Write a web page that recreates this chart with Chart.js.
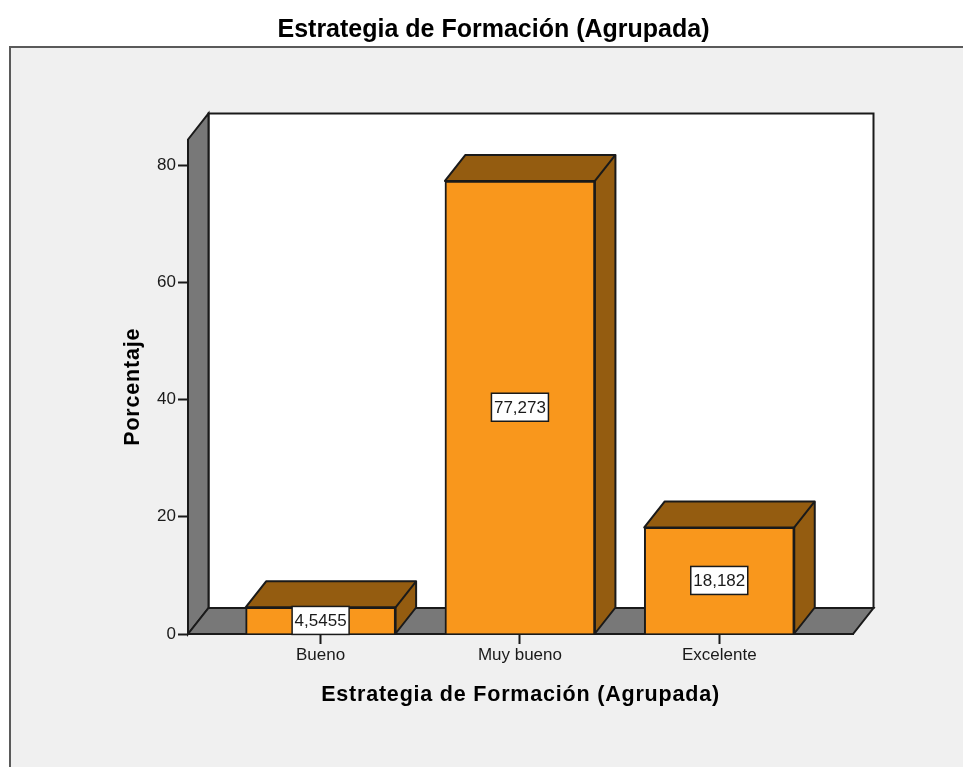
<!DOCTYPE html>
<html>
<head>
<meta charset="utf-8">
<title>Estrategia de Formación (Agrupada)</title>
<script src="https://cdn.jsdelivr.net/npm/chart.js@4"></script>
<style>
    html, body { margin: 0; padding: 0; background: #fff; }
    #wrap { width: 963px; height: 767px; }
</style>
</head>
<body>
<div id="wrap"><canvas id="chart" width="963" height="767"></canvas></div>
<script>
"use strict";
// Data
const categories = ['Bueno', 'Muy bueno', 'Excelente'];
const porcentaje = [4.5455, 77.273, 18.182];
const yTicks = [0, 20, 40, 60, 80];

const FONT = '"Liberation Sans", Arial, sans-serif';
const INK = '#1a1a1a';
const depthX = 20.5;
const depthY = 26;

// Grey panel, side wall, floor and back wall behind the axes
const framePlugin = {
    id: 'frame',
    beforeDraw(chart) {
        const { ctx, chartArea: a } = chart;
        ctx.save();
        ctx.fillStyle = '#f0f0f0';
        ctx.fillRect(10, 47, 953, 720);
        ctx.strokeStyle = '#5a5a5a';
        ctx.lineWidth = 2;
        ctx.beginPath();
        ctx.moveTo(10, 767);
        ctx.lineTo(10, 47);
        ctx.lineTo(963, 47);
        ctx.stroke();

        ctx.strokeStyle = INK;
        ctx.lineWidth = 2;
        // back wall
        ctx.fillStyle = '#fff';
        ctx.fillRect(a.left + depthX, a.top - depthY, a.width, a.height);
        ctx.strokeRect(a.left + depthX, a.top - depthY, a.width, a.height);
        // left wall
        ctx.fillStyle = '#787878';
        ctx.beginPath();
        ctx.moveTo(a.left, a.top);
        ctx.lineTo(a.left + depthX, a.top - depthY);
        ctx.lineTo(a.left + depthX, a.bottom - depthY);
        ctx.lineTo(a.left, a.bottom);
        ctx.closePath();
        ctx.fill();
        ctx.stroke();
        // floor
        ctx.beginPath();
        ctx.moveTo(a.left, a.bottom);
        ctx.lineTo(a.left + depthX, a.bottom - depthY);
        ctx.lineTo(a.right + depthX, a.bottom - depthY);
        ctx.lineTo(a.right, a.bottom);
        ctx.closePath();
        ctx.fill();
        ctx.stroke();
        ctx.restore();
    },
    afterLayout(chart) {
        // the title sits left of the plot centre, like in the original
        const t = chart.titleBlock;
        t.left = 0;
        t.right = 987;

        // axis titles are spaced out in the original
        [chart.scales.x, chart.scales.y].forEach(scale => {
            const drawTitle = Object.getPrototypeOf(scale).drawTitle;
            scale.drawTitle = function () {
                this.ctx.letterSpacing = '0.8px';
                drawTitle.call(this);
                this.ctx.letterSpacing = '0px';
            };
        });
    }
};

// Top and side faces of every bar, taken from the bar elements
const bar3dPlugin = {
    id: 'bar3d',
    beforeDatasetsDraw(chart) {
        const { ctx } = chart;
        ctx.save();
        ctx.fillStyle = '#945c10';
        ctx.strokeStyle = INK;
        ctx.lineWidth = 2;
        ctx.lineJoin = 'round';
        chart.getDatasetMeta(0).data.forEach(bar => {
            const l = bar.x - bar.width / 2;
            const r = bar.x + bar.width / 2;
            ctx.beginPath();
            ctx.moveTo(l, bar.y);
            ctx.lineTo(l + depthX, bar.y - depthY);
            ctx.lineTo(r + depthX, bar.y - depthY);
            ctx.lineTo(r + depthX, bar.base - depthY);
            ctx.lineTo(r, bar.base);
            ctx.lineTo(r, bar.y);
            ctx.closePath();
            ctx.fill();
            ctx.stroke();
            ctx.beginPath();
            ctx.moveTo(r, bar.y);
            ctx.lineTo(r + depthX, bar.y - depthY);
            ctx.stroke();
        });
        ctx.restore();
    },
    afterDatasetsDraw(chart) {
        // value boxes in the middle of the bars
        const { ctx } = chart;
        ctx.save();
        ctx.font = '17px ' + FONT;
        ctx.textAlign = 'center';
        ctx.textBaseline = 'middle';
        chart.getDatasetMeta(0).data.forEach((bar, i) => {
            const txt = String(porcentaje[i]).replace('.', ',');
            const w = ctx.measureText(txt).width + 5;
            const h = 28;
            const cy = (bar.y + bar.base) / 2;
            ctx.fillStyle = '#fff';
            ctx.strokeStyle = INK;
            ctx.lineWidth = 1.5;
            ctx.fillRect(bar.x - w / 2, cy - h / 2, w, h);
            ctx.strokeRect(bar.x - w / 2, cy - h / 2, w, h);
            ctx.fillStyle = INK;
            ctx.fillText(txt, bar.x, cy + 1);
        });
        ctx.restore();
    }
};

new Chart(document.getElementById('chart'), {
    type: 'bar',
    data: {
        datasets: [{
            label: 'Porcentaje',
            data: categories.map((c, i) => ({ x: i + 1, y: porcentaje[i] })),
            backgroundColor: '#f9971c',
            borderColor: INK,
            borderWidth: 2,
            barThickness: 150
        }]
    },
    options: {
        responsive: false,
        animation: false,
        layout: { padding: { left: 0, right: 110, top: 0, bottom: 0 } },
        plugins: {
            legend: { display: false },
            tooltip: { enabled: false },
            title: {
                display: true,
                text: 'Estrategia de Formación (Agrupada)',
                color: '#000',
                font: { family: FONT, size: 25, weight: 'bold' },
                padding: { top: 15, bottom: 94.5 }
            }
        },
        scales: {
            x: {
                type: 'linear',
                offset: false,
                min: 0.3347,
                max: 3.671,
                afterBuildTicks: axis => {
                    axis.ticks = categories.map((c, i) => ({ value: i + 1 }));
                },
                afterFit: axis => { axis.height = 133; },
                grid: { offset: false, drawOnChartArea: false, tickLength: 10, tickColor: INK, tickWidth: 2 },
                border: { color: INK, width: 2 },
                ticks: {
                    autoSkip: false,
                    maxRotation: 0,
                    padding: 1,
                    color: INK,
                    font: { family: FONT, size: 17 },
                    callback: v => categories[v - 1]
                },
                title: {
                    display: true,
                    text: 'Estrategia de Formación (Agrupada)',
                    color: '#000',
                    font: { family: FONT, size: 21.5, weight: 'bold' },
                    padding: { top: 0, bottom: 59.1 }
                }
            },
            y: {
                min: 0,
                max: 84.35,
                afterBuildTicks: axis => {
                    axis.ticks = yTicks.map(v => ({ value: v }));
                },
                afterFit: axis => { axis.width = 188; },
                grid: { drawOnChartArea: false, tickLength: 10, tickColor: INK, tickWidth: 2 },
                border: { color: INK, width: 2 },
                ticks: {
                    padding: 2,
                    color: INK,
                    font: { family: FONT, size: 17 }
                },
                title: {
                    display: true,
                    text: 'Porcentaje',
                    color: '#000',
                    font: { family: FONT, size: 21.5, weight: 'bold' },
                    padding: { top: 120.1, bottom: 0 }
                }
            }
        }
    },
    plugins: [framePlugin, bar3dPlugin]
});
</script>
</body>
</html>
